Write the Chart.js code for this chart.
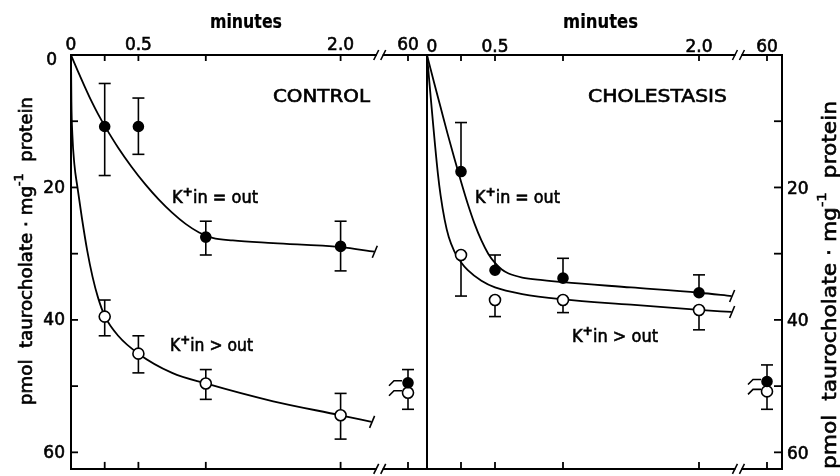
<!DOCTYPE html>
<html><head><meta charset="utf-8">
<script src="https://cdn.jsdelivr.net/npm/chart.js@4.4.1/dist/chart.umd.min.js"></script>
<style>
html,body{margin:0;padding:0;background:#fff;width:840px;height:476px;overflow:hidden}
#wrap{position:relative;width:840px;height:476px;background:#fff}
canvas{position:absolute;left:0;top:0}
</style>
</head><body>
<div id="wrap"><canvas id="cL" width="840" height="476"></canvas><canvas id="cR" width="840" height="476"></canvas></div>
<script>
// ---------------- DATA ----------------
const sampleTimes = [0.25, 0.5, 1.0, 2.0, 60];          // minutes (60 = after axis break)
const xTickValues = [0, 0.25, 0.5, 1.0, 2.0, 60];
const xTickLabels = ['0', '', '0.5', '', '2.0', '60'];
const yTickValues = [10, 20, 30, 40, 50, 60];
const yLabelsLeft = [0, 20, 40, 60];
const yLabelsRight = [20, 40, 60];

// CONTROL, K+ in = out (filled)
const ctrlEqual        = [10.8, 10.8, 27.5, 28.9, 49.5];
const ctrlEqualErrUp   = [6.5, 4.3, 2.4, 3.8, 2.0];
const ctrlEqualErrDown = [7.4, 4.2, 2.7, 3.7, 0];
// CONTROL, K+ in > out (open)
const ctrlGreater        = [39.5, 45.1, 49.6, 54.4, 51.0];
const ctrlGreaterErrUp   = [2.5, 2.7, 2.1, 3.3, 0];
const ctrlGreaterErrDown = [2.9, 2.9, 2.4, 3.6, 2.5];
// CHOLESTASIS, K+ in = out (filled)
const cholEqual        = [17.6, 32.5, 33.7, 35.9, 49.3];
const cholEqualErrUp   = [7.4, 2.3, 3.0, 2.7, 2.5];
const cholEqualErrDown = [0, 0, 0, 0, 0];
// CHOLESTASIS, K+ in > out (open)
const cholGreater        = [30.2, 37.0, 37.0, 38.5, 50.8];
const cholGreaterErrUp   = [0, 0, 0, 0, 0];
const cholGreaterErrDown = [6.2, 2.5, 1.9, 3.0, 2.7];

// fitted curves
const ctrlEqualCurveT = [0, 0.05, 0.1, 0.15, 0.2, 0.25, 0.35, 0.45, 0.55, 0.65, 0.75, 0.85, 0.95, 1.05, 1.2, 1.5, 2.0, 2.25];
const ctrlEqualCurveV = [0, 2.4, 4.7, 6.9, 8.9, 10.7, 14.0, 16.9, 19.5, 21.8, 23.8, 25.5, 26.8, 27.6, 28.0, 28.4, 29.0, 29.7];
const ctrlGreaterCurveT = [0, 0.003, 0.01, 0.025, 0.048, 0.08, 0.12, 0.16, 0.2, 0.25, 0.35, 0.5, 0.75, 1.0, 1.5, 2.0, 2.23];
const ctrlGreaterCurveV = [0, 7, 12, 16.5, 20, 24.5, 29.5, 33.5, 36.6, 39.4, 42.4, 45.1, 48, 49.6, 52.3, 54.4, 55.4];
const cholEqualCurveT = [0, 0.05, 0.1, 0.15, 0.2, 0.25, 0.3, 0.35, 0.4, 0.45, 0.5, 0.55, 0.6, 0.7, 0.85, 1.0, 1.5, 2.0, 2.24];
const cholEqualCurveV = [0, 4.0, 7.9, 11.8, 15.5, 19.1, 22.5, 25.5, 28.0, 30.0, 31.4, 32.4, 33.0, 33.6, 34.0, 34.3, 35.1, 35.9, 36.4];
const cholGreaterCurveT = [0, 0.02, 0.04, 0.06, 0.08, 0.1, 0.13, 0.16, 0.2, 0.25, 0.3, 0.4, 0.5, 0.7, 1.0, 1.5, 2.0, 2.24];
const cholGreaterCurveV = [0, 4.7, 9.3, 13.8, 17.9, 21.2, 24.9, 27.5, 29.6, 31.3, 32.5, 34.1, 35.1, 36.1, 36.9, 37.7, 38.5, 38.8];

// ---------------- LAYOUT / STYLE ----------------
const BREAK_PLOT_POS = 2.5;   // where "60 min" sits on the broken axis
const BREAK_MARK_POS = 2.29;  // where the // marks sit
const plotX = t => (t >= 60 ? BREAK_PLOT_POS : t);
const FONT = '"DejaVu Sans", "Liberation Sans", sans-serif';

function txt(ctx, s, x, y, weight) {
  ctx.fillText(s, x, y);
  ctx.save(); ctx.lineWidth = weight == null ? 0.6 : weight; ctx.strokeStyle = '#000'; ctx.strokeText(s, x, y); ctx.restore();
}
function drawParts(ctx, parts, x, baseline, targetWidth) {
  let w = 0;
  parts.forEach(p => { ctx.font = p.font; p.w = ctx.measureText(p.text).width; w += p.w; });
  const sx = targetWidth ? targetWidth / w : 1;
  ctx.save();
  ctx.translate(x, baseline);
  ctx.scale(sx, 1);
  let cx = 0;
  parts.forEach(p => { ctx.font = p.font; txt(ctx, p.text, cx, p.dy || 0, p.weight); cx += p.w; });
  ctx.restore();
}
function kLabel(ctx, rel, x, base, w) {
  drawParts(ctx, [
    {text: 'K', font: '17px ' + FONT},
    {text: '+', font: 'bold 13px ' + FONT, dy: -7},
    {text: 'in' + rel + 'out', font: '17px ' + FONT}
  ], x, base, w);
}
function yTitle(ctx, cx, cy, len, size) {
  ctx.save();
  ctx.translate(cx, cy);
  ctx.rotate(-Math.PI / 2);
  ctx.textBaseline = 'middle';
  drawParts(ctx, [
    {text: 'pmol  taurocholate · mg', font: size + 'px ' + FONT},
    {text: '-1', font: Math.round(size * 0.7) + 'px ' + FONT, dy: -size * 0.45},
    {text: '  protein', font: size + 'px ' + FONT}
  ], -len / 2, 0, len);
  ctx.restore();
}
function line(ctx, x1, y1, x2, y2) { ctx.beginPath(); ctx.moveTo(x1, y1); ctx.lineTo(x2, y2); ctx.stroke(); }

function makeDecor(side, series) {
  return {
    id: 'decor_' + side,
    beforeDatasetsDraw(chart) {
      const ctx = chart.ctx, xs = chart.scales.x, ys = chart.scales.y;
      ctx.save();
      ctx.strokeStyle = '#000'; ctx.lineWidth = 1.6;
      series.forEach(s => {
        sampleTimes.forEach((t, i) => {
          const px = xs.getPixelForValue(plotX(t));
          const py = ys.getPixelForValue(s.v[i]);
          if (s.up[i] > 0) {
            const pt = ys.getPixelForValue(s.v[i] - s.up[i]);
            line(ctx, px, py, px, pt); line(ctx, px - 6, pt, px + 6, pt);
          }
          if (s.down[i] > 0) {
            const pb = ys.getPixelForValue(s.v[i] + s.down[i]);
            line(ctx, px, py, px, pb); line(ctx, px - 6, pb, px + 6, pb);
          }
        });
      });
      ctx.restore();
    },
    afterDatasetsDraw(chart) {
      const ctx = chart.ctx, a = chart.chartArea, xs = chart.scales.x, ys = chart.scales.y;
      ctx.save();
      ctx.strokeStyle = '#000'; ctx.fillStyle = '#000'; ctx.lineWidth = 2; ctx.lineCap = 'butt';
      // frame
      line(ctx, a.left - 1, a.top, a.right + 1, a.top);
      line(ctx, a.left - 1, a.bottom, a.right + 1, a.bottom);
      line(ctx, a.left, a.top - 1, a.left, a.bottom + 1);
      if (side === 'right') line(ctx, a.right, a.top - 1, a.right, a.bottom + 1);
      // x ticks (inside)
      ctx.lineWidth = 1.8;
      xTickValues.forEach(v => {
        if (v === 0) return;
        const px = xs.getPixelForValue(plotX(v));
        line(ctx, px, a.top, px, a.top + 6);
        line(ctx, px, a.bottom, px, a.bottom - 7);
      });
      // y ticks (inside)
      yTickValues.forEach(v => {
        const py = ys.getPixelForValue(v);
        if (side === 'left') line(ctx, a.left, py, a.left + 7, py);
        else line(ctx, a.right, py, a.right - 8, py);
      });
      // axis breaks
      const bx = xs.getPixelForValue(BREAK_MARK_POS);
      ctx.fillStyle = '#fff';
      ctx.fillRect(bx - 3, a.top - 2, 6, 4);
      ctx.fillRect(bx - 3, a.bottom - 2, 6, 4);
      ctx.fillStyle = '#000';
      ctx.lineWidth = 1.6;
      [a.top, a.bottom].forEach(y => {
        line(ctx, bx - 6, y + 5, bx - 1, y - 5);
        line(ctx, bx + 1, y + 5, bx + 6, y - 5);
      });
      // curve end marks
      series.forEach(s => {
        const n = s.ct.length - 1;
        const px = xs.getPixelForValue(s.ct[n]), py = ys.getPixelForValue(s.cv[n]);
        line(ctx, px - 2, py + 6, px + 3, py - 6);
      });
      // break hooks next to the 60-min points
      series.forEach(s => {
        const i = sampleTimes.length - 1;
        const px = xs.getPixelForValue(plotX(sampleTimes[i]));
        const py = ys.getPixelForValue(s.v[i]);
        ctx.beginPath();
        ctx.moveTo(px - 19, py + 3); ctx.lineTo(px - 14, py - 2); ctx.lineTo(px - 6, py - 2);
        ctx.stroke();
      });
      // x tick labels
      ctx.font = '17px ' + FONT; ctx.textAlign = 'center'; ctx.textBaseline = 'alphabetic';
      xTickValues.forEach((v, i) => {
        if (!xTickLabels[i]) return;
        let px = xs.getPixelForValue(plotX(v));
        if (side === 'right' && v === 0) px += 5;
        txt(ctx, xTickLabels[i], px, side === 'left' ? 50 : 52);
      });
      // y tick labels
      ctx.textBaseline = 'middle';
      if (side === 'left') {
        ctx.textAlign = 'right';
        yLabelsLeft.forEach(v => {
          const py = ys.getPixelForValue(v);
          if (v === 0) txt(ctx, '0', 57, py + 6);
          else txt(ctx, String(v), a.left - 6, py + 1);
        });
      } else {
        ctx.textAlign = 'left';
        yLabelsRight.forEach(v => {
          const py = ys.getPixelForValue(v);
          txt(ctx, String(v), a.right + 5, py + 2);
        });
      }
      ctx.textAlign = 'left'; ctx.textBaseline = 'alphabetic';
      // texts
      if (side === 'left') {
        drawParts(ctx, [{text: 'minutes', font: 'bold 19px ' + FONT, weight: 0.2}], 210, 28, 72);
        drawParts(ctx, [{text: 'CONTROL', font: '17px ' + FONT}], 273, 102, 97);
        kLabel(ctx, ' = ', 172, 203, 86);
        kLabel(ctx, ' > ', 170, 351, 83);
        yTitle(ctx, 28, 251, 308, 17);
      } else {
        drawParts(ctx, [{text: 'minutes', font: 'bold 19px ' + FONT, weight: 0.2}], 563, 28, 75);
        drawParts(ctx, [{text: 'CHOLESTASIS', font: '17px ' + FONT}], 588, 102, 139);
        kLabel(ctx, ' = ', 475, 203, 85);
        kLabel(ctx, ' > ', 572, 342, 86);
        yTitle(ctx, 831, 285, 368, 19);
      }
      ctx.restore();
    }
  };
}

function curveDs(T, V) {
  return {
    data: T.map((t, i) => ({x: t, y: V[i]})), showLine: true, borderColor: '#000', borderWidth: 1.8,
    pointRadius: 0, cubicInterpolationMode: 'monotone', fill: false, order: 2
  };
}
function pointDs(V, filled) {
  return {
    data: sampleTimes.map((t, i) => ({x: plotX(t), y: V[i]})), showLine: false,
    pointRadius: filled ? 5 : 5.5, pointBackgroundColor: filled ? '#000' : '#fff',
    pointBorderColor: '#000', pointBorderWidth: 1.6, order: filled ? 0 : 1
  };
}

function makePanel(id, area, xMax, series, side) {
  const datasets = [];
  series.forEach(s => datasets.push(pointDs(s.v, s.filled)));
  series.forEach(s => datasets.push(curveDs(s.ct, s.cv)));
  return new Chart(document.getElementById(id), {
    type: 'scatter',
    data: {datasets},
    options: {
      responsive: false, animation: false, devicePixelRatio: 1,
      layout: {padding: {left: area.left, right: 840 - area.right, top: area.top, bottom: 476 - area.bottom}},
      plugins: {legend: {display: false}, tooltip: {enabled: false}},
      scales: {
        x: {type: 'linear', min: 0, max: xMax, display: false},
        y: {type: 'linear', min: 0, max: 62.5, reverse: true, display: false}
      },
      elements: {point: {hoverRadius: 5}}
    },
    plugins: [makeDecor(side, series)]
  });
}

makePanel('cL', {left: 71, right: 427, top: 55, bottom: 470}, 356 / 134.8, [
  {v: ctrlEqual, up: ctrlEqualErrUp, down: ctrlEqualErrDown, filled: true, ct: ctrlEqualCurveT, cv: ctrlEqualCurveV},
  {v: ctrlGreater, up: ctrlGreaterErrUp, down: ctrlGreaterErrDown, filled: false, ct: ctrlGreaterCurveT, cv: ctrlGreaterCurveV}
], 'left');
makePanel('cR', {left: 427, right: 782, top: 55, bottom: 470}, 355 / 136, [
  {v: cholEqual, up: cholEqualErrUp, down: cholEqualErrDown, filled: true, ct: cholEqualCurveT, cv: cholEqualCurveV},
  {v: cholGreater, up: cholGreaterErrUp, down: cholGreaterErrDown, filled: false, ct: cholGreaterCurveT, cv: cholGreaterCurveV}
], 'right');
</script>
</body></html>
